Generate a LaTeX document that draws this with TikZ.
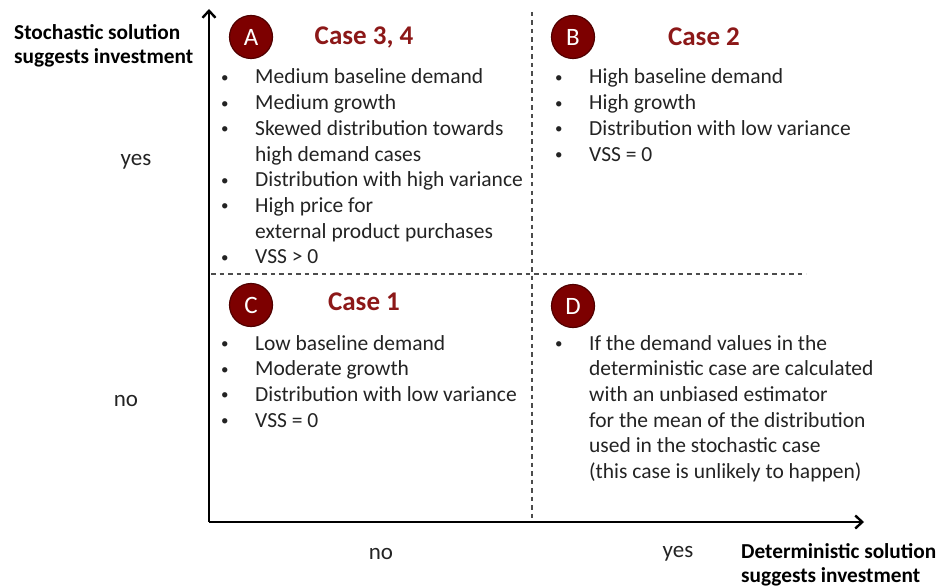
\documentclass[tikz,border=0pt]{standalone}
\usepackage{fontspec}
\setmainfont{Carlito}
\usetikzlibrary{arrows.meta}
\definecolor{circfill}{RGB}{125,0,0}
\definecolor{circdraw}{RGB}{80,0,0}
\definecolor{titlecol}{RGB}{140,24,24}
\definecolor{txt}{RGB}{35,35,35}
\tikzset{
  letter/.style={circle, fill=circfill, draw=circdraw, line width=1.2pt, minimum size=43pt, inner sep=0pt, text=white, font=\fontsize{25}{26}\selectfont},
  casetitle/.style={text=titlecol, font=\bfseries\fontsize{27}{30}\selectfont, inner sep=0pt},
  bullets/.style={anchor=base west, inner sep=0pt, text=txt, font=\fontsize{21.5}{25.7}\selectfont},
  axislab/.style={text=black, inner sep=0pt, font=\bfseries\fontsize{21.3}{24.5}\selectfont, align=left},
  ticklab/.style={text=txt, inner sep=0pt, font=\fontsize{23}{26}\selectfont},
  axis/.style={line width=2.4pt, -{Straight Barb[length=7pt,width=13pt,line width=2.4pt]}},
  divider/.style={line width=1.4pt, draw=black!70, dash pattern=on 4.5pt off 4pt},
}
\newcommand{\bl}{\raisebox{1.5pt}{\fontsize{15}{15}\selectfont\textbullet}}
\begin{document}
\begin{tikzpicture}[x=1pt,y=-1pt]
\useasboundingbox (0,0) rectangle (944,588);
% axes
\coordinate (O) at (209,522);
\coordinate (ytop) at (209,9);
\coordinate (xend) at (864,522);
\draw[axis] (O) -- (ytop);
\draw[axis] (O) -- (xend);
% dividers
\coordinate (vtop) at (532,12);
\coordinate (vbot) at (532,520);
\coordinate (hl) at (211,274);
\coordinate (hr) at (806,274);
\draw[divider] (vtop) -- (vbot);
\draw[divider] (hl) -- (hr);
% circles
\node[letter] (A) at (251,37) {A};
\node[letter] (B) at (573,37) {B};
\node[letter] (C) at (251,305) {C};
\node[letter] (D) at (573,306) {D};
% titles
\node[casetitle] (tA) at (364,37) {Case 3, 4};
\node[casetitle] (tB) at (704,37) {Case 2};
\node[casetitle] (tC) at (364,302) {Case 1};
% bullet lists
\node[bullets] (lA) at (221,84) {\begin{tabular}[t]{@{}p{34pt}@{}l@{}}
\bl & Medium baseline demand\\
\bl & Medium growth\\
\bl & Skewed distribution towards\\
    & high demand cases\\
\bl & Distribution with high variance\\
\bl & High price for\\
    & external product purchases\\
\bl & VSS {>} 0
\end{tabular}};
\node[bullets] (lB) at (555,84) {\begin{tabular}[t]{@{}p{34pt}@{}l@{}}
\bl & High baseline demand\\
\bl & High growth\\
\bl & Distribution with low variance\\
\bl & VSS = 0
\end{tabular}};
\node[bullets] (lC) at (221,350) {\begin{tabular}[t]{@{}p{34pt}@{}l@{}}
\bl & Low baseline demand\\
\bl & Moderate growth\\
\bl & Distribution with low variance\\
\bl & VSS = 0
\end{tabular}};
\node[bullets] (lD) at (555,350) {\begin{tabular}[t]{@{}p{34pt}@{}l@{}}
\bl & If the demand values in the\\
    & deterministic case are calculated\\
    & with an unbiased estimator\\
    & for the mean of the distribution\\
    & used in the stochastic case\\
    & (this case is unlikely to happen)
\end{tabular}};
% axis labels
\node[axislab, anchor=north west] (ylab) at (14,24) {Stochastic solution\\suggests investment};
\node[axislab, anchor=north west] (xlab) at (741,543) {Deterministic solution\\suggests investment};
\node[ticklab] (yyes) at (136,162) {yes};
\node[ticklab] (yno) at (126,401) {no};
\node[ticklab] (xno) at (381,554) {no};
\node[ticklab] (xyes) at (678,554) {yes};
\end{tikzpicture}
\end{document}
